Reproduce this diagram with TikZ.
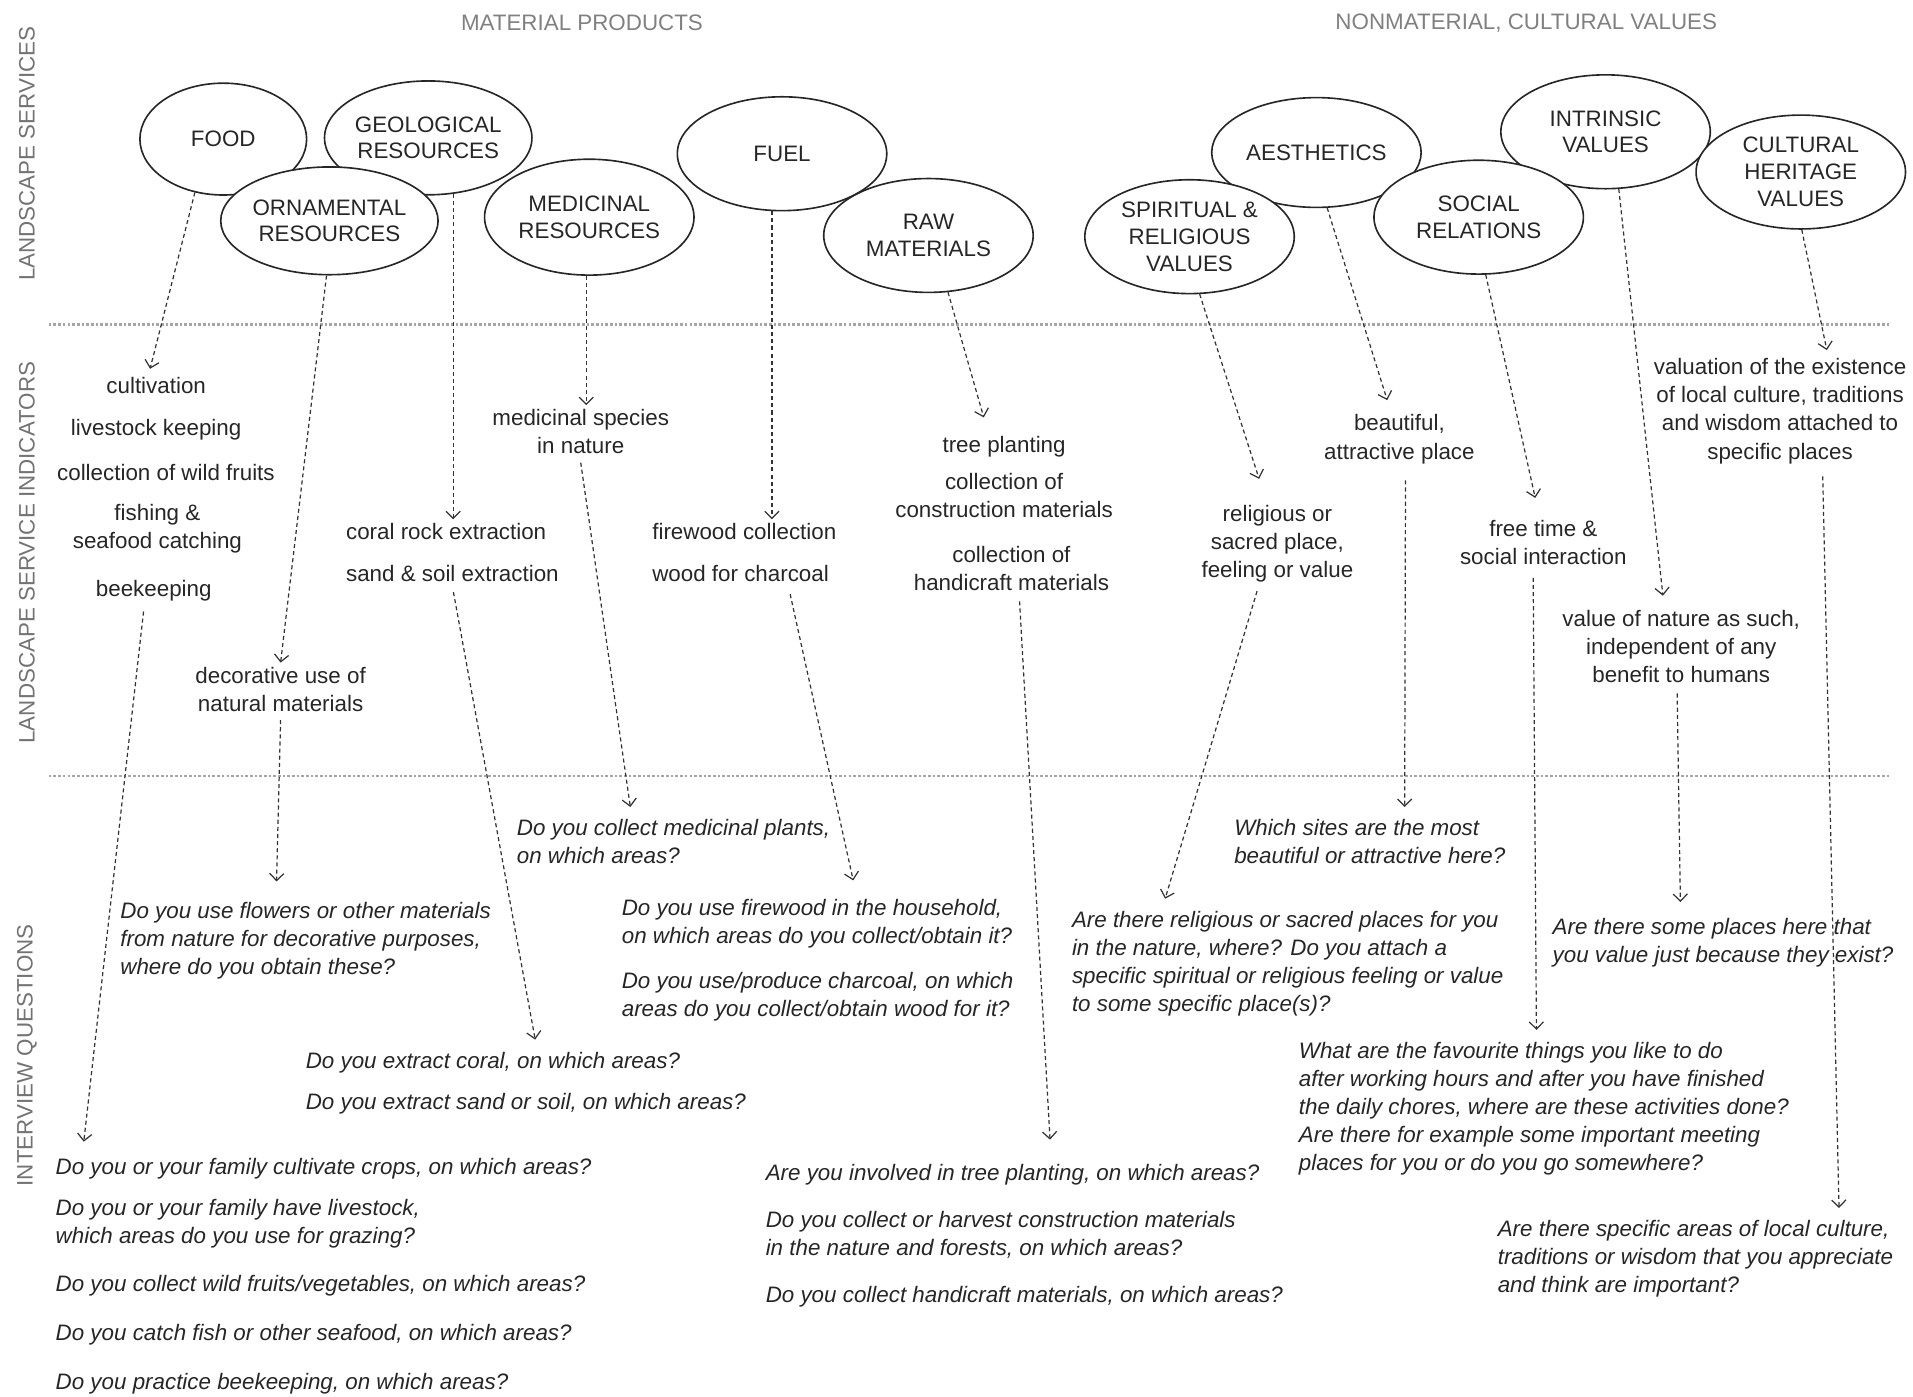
\documentclass[tikz,border=0pt]{standalone}
\usepackage{fontspec}
\setmainfont{Liberation Sans}
\usetikzlibrary{shapes.geometric,arrows.meta}
\tikzset{
  svc/.style = {ellipse, draw=black!85, line width=0.8pt, fill=white,
    minimum width=103pt, minimum height=56pt, inner sep=0pt, align=center,
    text=black!85, font=\fontsize{11pt}{13.2pt}\selectfont},
  ind/.style = {align=center, inner sep=2pt, text=black!85,
    font=\fontsize{11pt}{13.8pt}\selectfont},
  qst/.style = {anchor=west, align=left, inner sep=2pt, text=black!85,
    font=\fontsize{11pt}{13.8pt}\selectfont\itshape},
  head/.style = {text=black!50, font=\fontsize{11pt}{13pt}\selectfont},
  band/.style = {rotate=90, text=black!55, font=\fontsize{11pt}{13pt}\selectfont},
  sep/.style = {draw=black!35, line width=1.3pt, densely dotted},
  flow/.style = {draw=black!80, line width=0.6pt, dash pattern=on 2pt off 1.5pt,
    -{Straight Barb[length=3.5pt,width=7pt]}}
}

\begin{document}
\begin{tikzpicture}[x=0.6pt,y=-0.6pt]
  \useasboundingbox (0,0) rectangle (1568,1145);
  % bands
  \node[band] (bsvc) at (22,126) {LANDSCAPE SERVICES};
  \node[band] (bind) at (22,453) {LANDSCAPE SERVICE INDICATORS};
  \node[band] (bqst) at (22,865) {INTERVIEW QUESTIONS};
  \draw[sep] (40,266) -- (1548,266);
  \draw[sep] (40,636) -- (1548,636);
  % headers
  \node[head] (matl) at (477,19) {MATERIAL PRODUCTS};
  \node[head] (nonmatl) at (1251,19) {NONMATERIAL, CULTURAL VALUES};
  % services, back row
  \node[svc,minimum width=82pt,minimum height=55pt] (food) at (183,114) {FOOD};
  \node[svc,minimum width=89pt] (geo) at (351,113) {GEOLOGICAL\\RESOURCES};
  \node[svc] (fuel) at (641,126) {FUEL};
  \node[svc,minimum height=54pt] (aest) at (1079,125) {AESTHETICS};
  \node[svc] (intr) at (1316,108) {INTRINSIC\\VALUES};
  % services, front row
  \node[svc,minimum height=53pt] (orn) at (270,181) {ORNAMENTAL\\RESOURCES};
  \node[svc,minimum height=57pt] (med) at (483,178) {MEDICINAL\\RESOURCES};
  \node[svc] (raw) at (761,193) {RAW\\MATERIALS};
  \node[svc] (spir) at (975,194) {SPIRITUAL \&\\RELIGIOUS\\VALUES};
  \node[svc] (soc) at (1212,178) {SOCIAL\\RELATIONS};
  \node[svc] (cult) at (1476,141) {CULTURAL\\HERITAGE\\VALUES};
  % indicators
  \node[ind] (icult) at (128,316) {cultivation};
  \node[ind] (ilive) at (128,352) {livestock keeping};
  \node[ind] (iwild) at (136,387) {collection of wild fruits};
  \node[ind] (ifish) at (129,433) {fishing \&\\seafood catching};
  \node[ind] (ibee) at (126,484) {beekeeping};
  \node[ind] (idec) at (230,565) {decorative use of\\natural materials};
  \node[ind,anchor=west] (icoral) at (280,436) {coral rock extraction};
  \node[ind,anchor=west] (isand) at (280,470) {sand \& soil extraction};
  \node[ind] (imed) at (476,354) {medicinal species\\in nature};
  \node[ind,anchor=west] (ifire) at (531,436) {firewood collection};
  \node[ind,anchor=west] (ichar) at (531,470) {wood for charcoal};
  \node[ind] (itree) at (823,366) {tree planting};
  \node[ind] (icons) at (823,406) {collection of\\construction materials};
  \node[ind] (ihand) at (829,466) {collection of\\handicraft materials};
  \node[ind] (irel) at (1047,446) {religious or\\sacred place,\\feeling or value};
  \node[ind] (ibeau) at (1147,360) {beautiful,\\attractive place};
  \node[ind] (ifree) at (1265,445) {free time \&\\social interaction};
  \node[ind] (inat) at (1378,530) {value of nature as such,\\independent of any\\benefit to humans};
  \node[ind] (ival) at (1459,337) {valuation of the existence\\of local culture, traditions\\and wisdom attached to\\specific places};
  % questions
  \node[qst] (qmed) at (420,690) {Do you collect medicinal plants,\\on which areas?};
  \node[qst] (qdec) at (95,771) {Do you use flowers or other materials\\from nature for decorative purposes,\\where do you obtain these?};
  \node[qst] (qfire) at (506,757) {Do you use firewood in the household,\\on which areas do you collect/obtain it?};
  \node[qst] (qchar) at (506,817) {Do you use/produce charcoal, on which\\areas do you collect/obtain wood for it?};
  \node[qst] (qcoral) at (247,871) {Do you extract coral, on which areas?};
  \node[qst] (qsand) at (247,905) {Do you extract sand or soil, on which areas?};
  \node[qst] (qcrop) at (42,958) {Do you or your family cultivate crops, on which areas?};
  \node[qst] (qlive) at (42,1003) {Do you or your family have livestock,\\which areas do you use for grazing?};
  \node[qst] (qwild) at (42,1054) {Do you collect wild fruits/vegetables, on which areas?};
  \node[qst] (qfish) at (42,1094) {Do you catch fish or other seafood, on which areas?};
  \node[qst] (qbee) at (42,1134) {Do you practice beekeeping, on which areas?};
  \node[qst] (qtree) at (624,963) {Are you involved in tree planting, on which areas?};
  \node[qst] (qcons) at (624,1012) {Do you collect or harvest construction materials\\in the nature and forests, on which areas?};
  \node[qst] (qhand) at (624,1063) {Do you collect handicraft materials, on which areas?};
  \node[qst] (qbeau) at (1008,690) {Which sites are the most\\beautiful or attractive here?};
  \node[qst] (qrel) at (875,790) {Are there religious or sacred places for you\\in the nature, where? Do you attach a\\specific spiritual or religious feeling or value\\to some specific place(s)?};
  \node[qst] (qnat) at (1269,773) {Are there some places here that\\you value just because they exist?};
  \node[qst] (qfree) at (1061,909) {What are the favourite things you like to do\\after working hours and after you have finished\\the daily chores, where are these activities done?\\Are there for example some important meeting\\places for you or do you go somewhere?};
  \node[qst] (qval) at (1224,1032) {Are there specific areas of local culture,\\traditions or wisdom that you appreciate\\and think are important?};
  % services -> indicators
  \draw[flow] (food.-118) -- ([xshift=-3pt,yshift=2pt]icult.north);
  \draw[flow] (orn.-93) -- (idec.north);
  \draw[flow] (geo.-66) -- (icoral.north -| geo.-66);
  \draw[flow] (med.-93) -- (imed.north -| med.-93);
  \draw[flow] (fuel.-100) -- (ifire.north -| fuel.-100);
  \draw[flow] (raw.-71) -- ([xshift=-10pt,yshift=7pt]itree.north);
  \draw[flow] (spir.-80) -- ([xshift=-9pt,yshift=11pt]irel.north);
  \draw[flow] (aest.-79) -- ([xshift=-6pt,yshift=5pt]ibeau.north);
  \draw[flow] (soc.-83) -- ([xshift=-4pt,yshift=9pt]ifree.north);
  \draw[flow] (intr.-77) -- ([xshift=-9pt,yshift=5pt]inat.north);
  \draw[flow] (cult.-89) -- ([xshift=23pt,yshift=2pt]ival.north);
  % indicators -> questions
  \draw[flow] ([xshift=-5pt,yshift=-3pt]ibee.south) -- ([xshift=16pt,yshift=6pt]qcrop.north west);
  \draw[flow] ([yshift=-2pt]idec.south) -- ([xshift=79pt,yshift=8pt]qdec.north west);
  \draw[flow] ([xshift=55pt,yshift=-3pt]isand.south west) -- ([xshift=115pt,yshift=4pt]qcoral.north west);
  \draw[flow] ([yshift=-2pt]imed.south) -- ([xshift=58pt,yshift=4pt]qmed.north west);
  \draw[flow] ([xshift=70pt,yshift=-4pt]ichar.south west) -- ([xshift=116pt,yshift=7pt]qfire.north west);
  \draw[flow] ([xshift=4pt,yshift=-3pt]ihand.south) -- ([xshift=142pt,yshift=10pt]qtree.north west);
  \draw[flow] ([xshift=-10pt,yshift=-2pt]irel.south) -- ([xshift=48pt,yshift=4pt]qrel.north west);
  \draw[flow] ([xshift=3pt,yshift=-6pt]ibeau.south) -- ([xshift=86pt,yshift=4pt]qbeau.north west);
  \draw[flow] ([xshift=-5pt,yshift=-4pt]ifree.south) -- ([xshift=119pt,yshift=4pt]qfree.north west);
  \draw[flow] ([xshift=-2pt,yshift=-3pt]inat.south) -- ([xshift=65pt,yshift=6pt]qnat.north west);
  \draw[flow] ([xshift=21pt,yshift=-4pt]ival.south) -- ([xshift=170pt,yshift=4pt]qval.north west);
\end{tikzpicture}
\end{document}
